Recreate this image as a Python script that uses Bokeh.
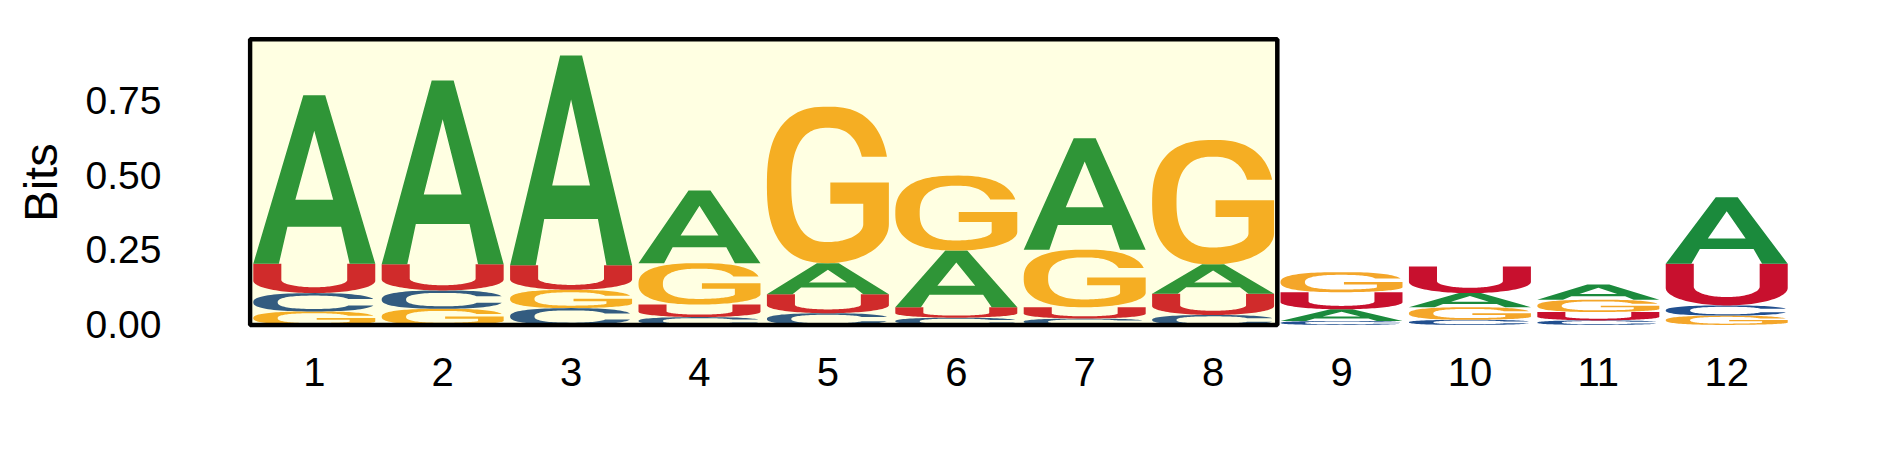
import math
from bokeh.plotting import figure
from bokeh.models import Range1d, FixedTicker, ColumnDataSource, NumeralTickFormatter
from bokeh.embed import file_html
from bokeh.resources import INLINE

# ---------------- data ----------------
positions = [1, 2, 3, 4, 5, 6, 7, 8, 9, 10, 11, 12]
tick_labels = ["1", "2", "3", "4", "5", "6", "7", "8", "9", "10", "11", "12"]
A_bits = [0.562, 0.613, 0.700, 0.242, 0.104, 0.189, 0.372, 0.098, 0.039, 0.047, 0.051, 0.222]
C_bits = [0.061, 0.061, 0.056, 0.026, 0.039, 0.024, 0.021, 0.033, 0.013, 0.017, 0.015, 0.034]
G_bits = [0.045, 0.054, 0.061, 0.138, 0.522, 0.250, 0.192, 0.415, 0.067, 0.042, 0.041, 0.031]
U_bits = [0.098, 0.087, 0.082, 0.042, 0.063, 0.035, 0.038, 0.071, 0.057, 0.089, 0.028, 0.139]
highlight_range = [1, 8]
y_ticks = [0.0, 0.25, 0.50, 0.75]
y_max = 0.953

# ---------------- style ----------------
colors_in = {"A": "#2f9537", "C": "#335c80", "G": "#f5ae23", "U": "#d02b2b"}
colors_out = {"A": "#1b8a3c", "C": "#214f8f", "G": "#f4a62a", "U": "#c8102e"}
letter_width = 0.95
FONT = "Liberation Sans"
SE = 2.5  # superellipse exponent for round glyphs


def arc(cx, cy, rx, ry, a0, a1, n=60):
    pts = []
    for i in range(n + 1):
        a = math.radians(a0 + (a1 - a0) * i / n)
        pts.append((cx + rx * math.cos(a), cy + ry * math.sin(a)))
    return pts


def sarc(cx, cy, rx, ry, a0, a1, e=SE, n=80):
    pts = []
    for i in range(n + 1):
        a = math.radians(a0 + (a1 - a0) * i / n)
        c, s = math.cos(a), math.sin(a)
        x = cx + rx * math.copysign(abs(c) ** (2 / e), c)
        y = cy + ry * math.copysign(abs(s) ** (2 / e), s)
        pts.append((x, y))
    return pts


def s_angle(dy, ry, e=SE):
    v = min(abs(dy) / ry, 1.0) ** (e / 2)
    return math.copysign(math.degrees(math.asin(v)), dy)


def shape_A():
    outer = [(0, 0), (0.41, 1), (0.59, 1), (1, 0), (0.79, 0), (0.72, 0.22),
             (0.28, 0.22), (0.21, 0)]
    hole = [(0.345, 0.38), (0.655, 0.38), (0.5, 0.79)]
    return [outer, hole]


def shape_U():
    pts = [(0, 1), (0, 0.42)]
    pts += arc(0.5, 0.42, 0.5, 0.42, 180, 360)
    pts += [(1, 1), (0.77, 1), (0.77, 0.45)]
    pts += arc(0.5, 0.45, 0.27, 0.25, 360, 180)
    pts += [(0.23, 1)]
    return [pts]


ORX, ORY = 0.5, 0.5
IRX, IRY = 0.30, 0.365


def shape_C():
    to = s_angle(0.18, ORY)
    ti = s_angle(0.18, IRY)
    pts = sarc(0.5, 0.5, ORX, ORY, to, 360 - to)
    pts += sarc(0.5, 0.5, IRX, IRY, 360 - ti, ti)
    return [pts]


def shape_G():
    to = s_angle(0.18, ORY)
    ti = s_angle(0.18, IRY)
    pts = sarc(0.5, 0.5, ORX, ORY, to, 270)
    pts += arc(0.5, 0.25, 0.5, 0.25, 270, 360, n=30)
    pts += [(1.0, 0.515), (0.52, 0.515), (0.52, 0.38), (0.79, 0.38), (0.79, 0.25)]
    pts += arc(0.5, 0.25, 0.29, 0.115, 360, 270, n=30)
    pts += sarc(0.5, 0.5, IRX, IRY, 270, ti)
    return [pts]


shapes = {"A": shape_A(), "C": shape_C(), "G": shape_G(), "U": shape_U()}
bits = {"A": A_bits, "C": C_bits, "G": G_bits, "U": U_bits}

xs, ys, cols = [], [], []
for i, pos in enumerate(positions):
    stack = sorted(["A", "C", "G", "U"], key=lambda L: bits[L][i])
    y0 = 0.0
    inside = highlight_range[0] <= pos <= highlight_range[1]
    for L in stack:
        h = bits[L][i]
        left = pos - letter_width / 2
        rings_x = [[left + px * letter_width for px, py in ring] for ring in shapes[L]]
        rings_y = [[y0 + py * h for px, py in ring] for ring in shapes[L]]
        xs.append([rings_x])
        ys.append([rings_y])
        cols.append((colors_in if inside else colors_out)[L])
        y0 += h

src = ColumnDataSource(dict(xs=xs, ys=ys, color=cols))

p = figure(frame_width=1546, frame_height=292, output_backend="svg",
           toolbar_location=None,
           x_range=Range1d(positions[0] - 0.52, positions[-1] + 0.52),
           y_range=Range1d(-0.012, y_max + 0.009),
           min_border_left=247, min_border_right=80,
           min_border_top=36, min_border_bottom=128)
p.outline_line_color = None
p.xgrid.visible = False
p.ygrid.visible = False
p.background_fill_color = "white"
p.border_fill_color = "white"

hl_left = highlight_range[0] - 0.5
hl_right = highlight_range[1] + 0.5
p.quad(left=[hl_left], right=[hl_right], bottom=[0], top=[y_max],
       fill_color="#ffffe2", line_color=None)
p.multi_polygons(xs="xs", ys="ys", fill_color="color", line_color=None, source=src)
p.quad(left=[hl_left], right=[hl_right], bottom=[0], top=[y_max],
       fill_color=None, line_color="black", line_width=4.5)

p.xaxis.ticker = FixedTicker(ticks=positions)
p.xaxis.major_label_overrides = {pos: lab for pos, lab in zip(positions, tick_labels)}
p.yaxis.ticker = FixedTicker(ticks=y_ticks)
p.yaxis.formatter = NumeralTickFormatter(format="0.00")
p.yaxis.axis_label = "Bits"

for ax in (p.xaxis[0], p.yaxis[0]):
    ax.axis_line_color = None
    ax.major_tick_line_color = None
    ax.minor_tick_line_color = None
    ax.major_label_text_font = FONT
    ax.major_label_text_color = "black"

p.xaxis.major_label_text_font_size = "40px"
p.yaxis.major_label_text_font_size = "39px"
p.xaxis.major_label_standoff = 23
p.yaxis.major_label_standoff = 80
p.yaxis.axis_label_text_font = FONT
p.yaxis.axis_label_text_font_size = "47px"
p.yaxis.axis_label_text_font_style = "normal"
p.yaxis.axis_label_text_color = "black"
p.yaxis.axis_label_standoff = 16

open("out.html", "w").write(file_html(p, INLINE))
